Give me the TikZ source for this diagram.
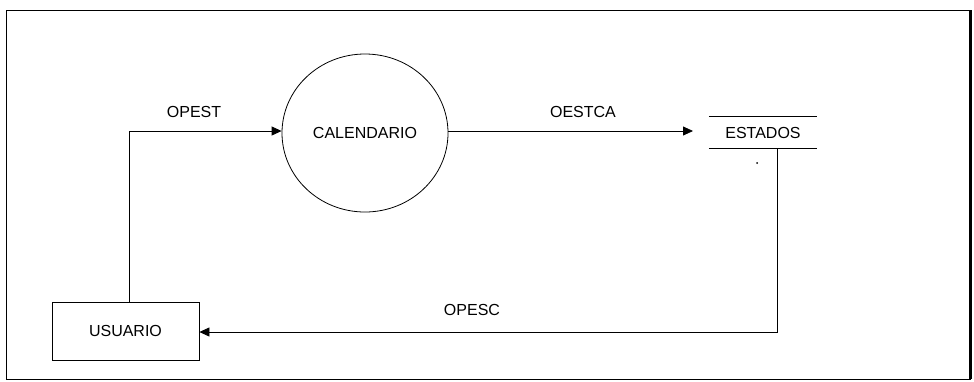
\documentclass[tikz,border=0pt]{standalone}
\usepackage{fontspec}
\setmainfont{Liberation Sans}
\usetikzlibrary{arrows.meta,shapes.geometric}
\begin{document}
\begin{tikzpicture}[x=1pt,y=-1pt,
  every node/.style={font=\fontsize{16}{18}\selectfont},
  flow/.style={draw, line width=0.8pt, -{Triangle[length=10pt,width=9pt]}},
  ln/.style={line width=0.8pt}]
\useasboundingbox (0,0) rectangle (974,381);
\draw[line width=0.8pt] (6,10) -- (971,10) (971,379) -- (6,379) -- (6,10);
\draw[line width=2.5pt] (970.5,10) -- (970.5,379);
\node[draw, ellipse, minimum width=166pt, minimum height=158pt, ln, inner sep=0pt] (cal) at (365,133) {CALENDARIO};
\node[draw, minimum width=147pt, minimum height=58pt, ln, inner sep=0pt] (usr) at (125.5,331) {USUARIO};
\node[minimum width=108pt, minimum height=31pt, inner sep=0pt] (est) at (763,132.5) {ESTADOS};
\draw[ln] (est.north west) -- (est.north east);
\draw[ln] (est.south west) -- (est.south east);
\coordinate (u1) at (129,302);
\coordinate (c1) at (129,131);
\draw[flow] (u1) -- (c1) -- (c1 -| cal.west);
\node at (194,112) {OPEST};
\coordinate (e0) at (693,131);
\draw[flow] (e0 -| cal.east) -- (e0);
\node at (583,112) {OESTCA};
\coordinate (s1) at (777,148);
\coordinate (c2) at (777,332);
\draw[flow] (s1) -- (c2) -- (c2 -| usr.east);
\node at (472,310) {OPESC};
\fill (757,163) circle (1pt);
\end{tikzpicture}
\end{document}
